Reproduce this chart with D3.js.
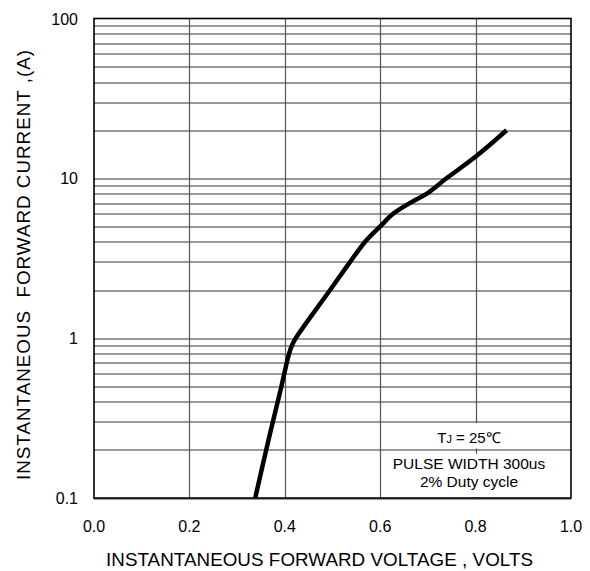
<!DOCTYPE html>
<html>
<head>
<meta charset="utf-8">
<script src="https://cdn.jsdelivr.net/npm/d3@7"></script>
<style>
  body { margin: 0; background: #fff; }
  text { font-family: "Liberation Sans", Arial, sans-serif; }
</style>
</head>
<body>
<div id="chart"></div>
<script>
// curve: forward voltage (V) vs forward current (A)
var voltage = [0.338, 0.361, 0.375, 0.393, 0.404, 0.409, 0.415, 0.423, 0.495, 0.537, 0.568, 0.600, 0.627, 0.662, 0.697, 0.739, 0.803, 0.865];
var current = [0.1, 0.2, 0.3, 0.5, 0.7, 0.8, 0.9, 1, 2, 3, 4, 5, 6, 7, 8, 10, 13.9, 20];

var xTicks = [0, 0.2, 0.4, 0.6, 0.8, 1.0];
var yTicks = [0.1, 1, 10, 100];
var yTickLabels = ["0.1", "1", "10", "100"];

var margin = {top: 18.5, right: 19, bottom: 73, left: 94},
    width = 590 - margin.left - margin.right,
    height = 571 - margin.top - margin.bottom;

var svg = d3.select("#chart")
  .append("svg")
    .attr("width", 590)
    .attr("height", 571)
  .append("g")
    .attr("transform", "translate(" + margin.left + "," + margin.top + ")");

var x = d3.scaleLinear().domain([0, 1]).range([0, width]);
var y = d3.scaleLog().domain([0.1, 100]).range([height, 0]);

// horizontal grid: every 1..9 in each decade
var gridY = [];
[0.1, 1, 10].forEach(function(d) {
  for (var k = 1; k <= 9; k++) gridY.push(+(d * k).toPrecision(3));
});
svg.append("g")
  .selectAll("line")
  .data(gridY)
  .enter()
  .append("line")
    .attr("x1", 0)
    .attr("x2", width)
    .attr("y1", function(d) { return Math.round(y(d)) + 0.5; })
    .attr("y2", function(d) { return Math.round(y(d)) + 0.5; })
    .style("stroke", "#333")
    .style("stroke-width", 1);

// vertical grid
svg.append("g")
  .selectAll("line")
  .data(xTicks.slice(1, -1))
  .enter()
  .append("line")
    .attr("x1", function(d) { return Math.round(x(d)) + 0.5; })
    .attr("x2", function(d) { return Math.round(x(d)) + 0.5; })
    .attr("y1", 0)
    .attr("y2", height)
    .style("stroke", "#555")
    .style("stroke-width", 1.2);

// note box text with white backing
var noteX = 469 - margin.left;
svg.append("rect")
  .attr("x", noteX - 32).attr("y", y(0.3) + 1.5)
  .attr("width", 64).attr("height", y(0.2) - y(0.3) - 3)
  .style("fill", "#fff");
svg.append("rect")
  .attr("x", noteX - 56).attr("y", y(0.2) + 4)
  .attr("width", 112).attr("height", height - y(0.2) - 5)
  .style("fill", "#fff");

var tj = svg.append("text")
  .attr("x", noteX)
  .attr("y", 443 - margin.top)
  .attr("text-anchor", "middle")
  .style("font-size", "15px");
tj.append("tspan").text("T");
tj.append("tspan").style("font-size", "11px").text("J");
tj.append("tspan").text(" = 25\u2103");

svg.append("text")
  .attr("x", noteX)
  .attr("y", 469 - margin.top)
  .attr("text-anchor", "middle")
  .style("font-size", "15.5px")
  .text("PULSE WIDTH 300us");
svg.append("text")
  .attr("x", noteX)
  .attr("y", 487 - margin.top)
  .attr("text-anchor", "middle")
  .style("font-size", "15.5px")
  .text("2% Duty cycle");

// frame
svg.append("rect")
  .attr("x", 0).attr("y", 0)
  .attr("width", width).attr("height", height)
  .style("fill", "none")
  .style("stroke", "#000")
  .style("stroke-width", 1.6);

// curve
var pts = voltage.map(function(v, i) { return [v, current[i]]; });
svg.append("path")
  .datum(pts)
  .attr("d", d3.line()
    .x(function(d) { return x(d[0]); })
    .y(function(d) { return y(d[1]); })
    .curve(d3.curveCatmullRom.alpha(0.5)))
  .style("fill", "none")
  .style("stroke", "#000")
  .style("stroke-width", 4.5)
  .style("stroke-linecap", "butt");

// tick labels
svg.append("g")
  .selectAll("text")
  .data(xTicks)
  .enter()
  .append("text")
    .attr("x", function(d) { return x(d); })
    .attr("y", 532 - margin.top)
    .attr("text-anchor", "middle")
    .style("font-size", "16px")
    .text(function(d) { return d.toFixed(1); });

svg.append("g")
  .selectAll("text")
  .data(yTicks)
  .enter()
  .append("text")
    .attr("x", -16)
    .attr("y", function(d) { return y(d) + 6; })
    .attr("text-anchor", "end")
    .style("font-size", "16px")
    .text(function(d, i) { return yTickLabels[i]; });

// axis titles
svg.append("text")
  .attr("x", 319.5 - margin.left)
  .attr("y", 566 - margin.top)
  .attr("text-anchor", "middle")
  .attr("textLength", 427)
  .attr("lengthAdjust", "spacing")
  .style("font-size", "18.8px")
  .text("INSTANTANEOUS FORWARD VOLTAGE , VOLTS");

svg.append("text")
  .attr("transform", "rotate(-90)")
  .attr("x", -(265 - margin.top))
  .attr("y", 30 - margin.left)
  .attr("text-anchor", "middle")
  .attr("textLength", 430)
  .attr("lengthAdjust", "spacing")
  .style("font-size", "18.8px")
  .style("white-space", "pre")
  .text("INSTANTANEOUS  FORWARD CURRENT ,(A)");
</script>
</body>
</html>
